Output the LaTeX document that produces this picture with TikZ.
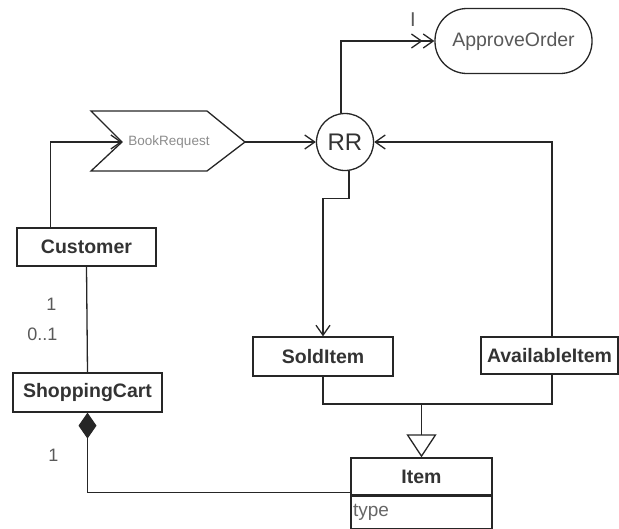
\documentclass[tikz,border=0pt]{standalone}
\usepackage{fontspec}
\setmainfont{Liberation Sans}
\usetikzlibrary{arrows.meta}
\begin{document}
\begin{tikzpicture}[x=1pt,y=-1pt,
  line width=1.3pt, color=black!85,
  cls/.style={draw, rectangle, inner sep=0pt,
    font=\fontsize{19.5}{22}\selectfont\bfseries, text=black!80},
  lbl/.style={font=\fontsize{18}{20}\selectfont, text=black!65, inner sep=0pt},
  barb/.style={-{Straight Barb[length=10pt,width=14pt]}},
  barbtwo/.style={-{Straight Barb[length=10pt,width=14pt] Straight Barb[length=10pt,width=14pt]}},
]
\useasboundingbox (0,0) rectangle (619,528);

% classes
\node[cls, minimum width=139, minimum height=38] (cust) at (86.5,247) {Customer};
\node[cls, minimum width=149, minimum height=39] (cart) at (87.5,392.5) {ShoppingCart};
\node[cls, minimum width=140, minimum height=39] (sold) at (323,356.5) {SoldItem};
\node[cls, minimum width=137, minimum height=37] (avail) at (549.5,355.5) {AvailableItem};
\node[cls, minimum width=141, minimum height=37] (item) at (421.5,476.5) {Item};
\node[draw, minimum width=141, minimum height=32, anchor=north, text width=137pt,
  align=left, inner sep=2pt, font=\fontsize{19}{22}\selectfont, text=black!60]
  (itemattr) at (item.south) {type};

% rendezvous, action and signal
\node[draw, circle, minimum size=57, inner sep=0pt,
  font=\fontsize{24}{26}\selectfont, text=black!80] (rr) at (345,142) {RR};
\node[draw, rounded corners=32pt, minimum width=157, minimum height=65,
  font=\fontsize{19.5}{22}\selectfont, text=black!65] (ao) at (513.5,41) {ApproveOrder};

\coordinate (brnotch) at (122,142);
\coordinate (brtip) at (245,142);
\draw (91,111) -- (207,111) -- (brtip) -- (207,171) -- (91,171) -- (brnotch) -- cycle;
\node[font=\fontsize{13.5}{15}\selectfont, text=black!45] (br) at (169,142) {BookRequest};

% flows
\draw[barb] ([xshift=34pt]cust.north west) |- (brnotch);
\draw[barb] (brtip) -- (rr.west);
\draw[barbtwo] ([xshift=-4pt]rr.north) |- (ao.west);
\node[lbl, font=\fontsize{20}{22}\selectfont] (ilbl) at (413,20) {I};
\draw[barb] ([xshift=2.5pt]avail.north) |- (rr.east);
\draw[barb] ([xshift=4pt]rr.south) -- ++(0,27) -| (sold.north);

% generalization
\coordinate (gen) at (421.5,404);
\draw (sold.south) |- (gen);
\draw ([xshift=2.5pt]avail.south) |- (gen);
\draw[-{Triangle[open,length=23pt,width=30pt]}] (gen) -- (item.north);

% associations
\draw (cust.south) -- (cart.north);
\draw[{Diamond[length=26pt,width=18pt]}-] (cart.south) |- ([yshift=3pt]item.south west);

% multiplicities
\node[lbl, anchor=east] (m1) at (57,304) {1};
\node[lbl, anchor=east] (m2) at (58,334) {0..1};
\node[lbl, anchor=east] (m3) at (59,455) {1};
\end{tikzpicture}
\end{document}
